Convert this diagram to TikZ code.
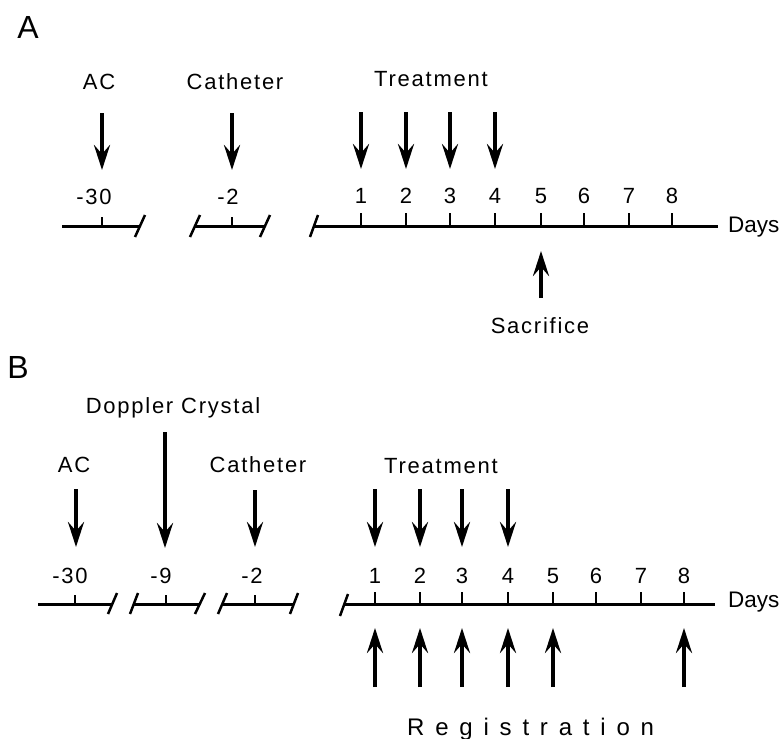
\documentclass[tikz,border=0pt]{standalone}
\usepackage{fontspec}
\setmainfont{Liberation Sans}
\newfontfamily\labelfont[LetterSpace=8]{Liberation Sans}
\newfontfamily\spreadfont[LetterSpace=45]{Liberation Sans}
\usetikzlibrary{arrows.meta}

\begin{document}
\begin{tikzpicture}[x=1pt,y=-1pt,
  lbl/.style={font=\labelfont\fontsize{22}{26}\selectfont, inner sep=0pt, anchor=base},
  num/.style={font=\labelfont\fontsize{22}{26}\selectfont, inner sep=0pt, anchor=base},
  unit/.style={font=\fontsize{22.5}{26}\selectfont, inner sep=0pt, anchor=base west},
  panel/.style={font=\fontsize{32}{36}\selectfont, inner sep=0pt, anchor=base},
  axis/.style={line width=3pt},
  cut/.style={line width=2.5pt},
  tick/.style={line width=2pt},
  event/.style={line width=4pt, -{Stealth[length=25pt,width=16pt,inset=9pt]}},
]
\useasboundingbox (0,0) rectangle (782,739);

% ---------------- Panel A ----------------
\node[panel] (labA) at (28,38) {A};

% AC segment
\coordinate (aacL) at (62,226);
\coordinate (aacR) at (140,226);
\coordinate (aacT) at (102,226);
\draw[axis] (aacL) -- (aacR);
\draw[cut] (135,237) -- (145,215);
\draw[tick] (102,217) -- (aacT);
\node[num] (aacN) at (94,204) {-30};
\node[lbl] (aacLab) at (99,89) {AC};
\coordinate (aacS) at (102,113);
\coordinate (aacE) at (102,170);
\draw[event] (aacS) -- (aacE);

% Catheter segment
\coordinate (acaL) at (195,226);
\coordinate (acaR) at (265,226);
\coordinate (acaT) at (232,226);
\draw[axis] (acaL) -- (acaR);
\draw[cut] (190,237) -- (200,215);
\draw[cut] (260,237) -- (270,215);
\draw[tick] (232,217) -- (acaT);
\node[num] (acaN) at (228,204) {-2};
\node[lbl] (acaLab) at (235,89) {Catheter};
\coordinate (acaS) at (232,113);
\coordinate (acaE) at (232,170);
\draw[event] (acaS) -- (acaE);

% Treatment days
\coordinate (amL) at (314,226);
\coordinate (amR) at (718,226);
\draw[axis] (amL) -- (amR);
\draw[cut] (310,237) -- (318,215);
\foreach \n/\x in {1/361,2/406,3/450,4/495,5/541,6/584,7/629,8/672} {
  \coordinate (at\n) at (\x,226);
  \draw[tick] (\x,213) -- (at\n);
  \node[num] (an\n) at (\x,203) {\n};
}
\node[lbl] (atrLab) at (431,86) {Treatment};
\foreach \n/\x in {1/361,2/406,3/450,4/495} {
  \coordinate (ats\n) at (\x,112);
  \coordinate (ate\n) at (\x,169);
  \draw[event] (ats\n) -- (ate\n);
}
\node[unit] (adays) at (728,232) {Days};
\coordinate (asacS) at (541,298);
\coordinate (asacE) at (541,251);
\draw[event] (asacS) -- (asacE);
\node[lbl] (asacLab) at (540,333) {Sacrifice};

% ---------------- Panel B ----------------
\node[panel] (labB) at (18,378) {B};

% AC segment
\coordinate (bacL) at (38,604);
\coordinate (bacR) at (113,604);
\coordinate (bacT) at (75,604);
\draw[axis] (bacL) -- (bacR);
\draw[cut] (108,614) -- (117,593);
\draw[tick] (75,595) -- (bacT);
\node[num] (bacN) at (70,583) {-30};
\node[lbl] (bacLab) at (74,472) {AC};
\coordinate (bacS) at (76,489);
\coordinate (bacE) at (76,547);
\draw[event] (bacS) -- (bacE);

% Doppler crystal segment
\coordinate (bdoL) at (134,604);
\coordinate (bdoR) at (200,604);
\coordinate (bdoT) at (166,604);
\draw[axis] (bdoL) -- (bdoR);
\draw[cut] (130,614) -- (138,593);
\draw[cut] (195,614) -- (205,593);
\draw[tick] (166,595) -- (bdoT);
\node[num] (bdoN) at (161,583) {-9};
\node[lbl] (bdoLab) at (173,413) {Doppler Crystal};
\coordinate (bdoS) at (165,432);
\coordinate (bdoE) at (165,548);
\draw[event] (bdoS) -- (bdoE);

% Catheter segment
\coordinate (bcaL) at (222,604);
\coordinate (bcaR) at (294,604);
\coordinate (bcaT) at (255,604);
\draw[axis] (bcaL) -- (bcaR);
\draw[cut] (218,614) -- (227,593);
\draw[cut] (290,614) -- (298,593);
\draw[tick] (255,595) -- (bcaT);
\node[num] (bcaN) at (252,583) {-2};
\node[lbl] (bcaLab) at (258,472) {Catheter};
\coordinate (bcaS) at (255,490);
\coordinate (bcaE) at (255,547);
\draw[event] (bcaS) -- (bcaE);

% Treatment and registration days
\coordinate (bmL) at (344,604);
\coordinate (bmR) at (715,604);
\draw[axis] (bmL) -- (bmR);
\draw[cut] (340,616) -- (348,594);
\foreach \n/\x in {1/375,2/420,3/462,4/508,5/553,6/596,7/641,8/684} {
  \coordinate (bt\n) at (\x,604);
  \draw[tick] (\x,592) -- (bt\n);
  \node[num] (bn\n) at (\x,583) {\n};
}
\node[lbl] (btrLab) at (441,473) {Treatment};
\foreach \n/\x in {1/375,2/420,3/462,4/508} {
  \coordinate (bts\n) at (\x,489);
  \coordinate (bte\n) at (\x,547);
  \draw[event] (bts\n) -- (bte\n);
}
\foreach \n/\x in {1/375,2/420,3/462,4/508,5/553,8/684} {
  \coordinate (brs\n) at (\x,687);
  \coordinate (bre\n) at (\x,628);
  \draw[event] (brs\n) -- (bre\n);
}
\node[unit] (bdays) at (728,607) {Days};
\node[font=\spreadfont\fontsize{24}{28}\selectfont, inner sep=0pt, anchor=base west] (bregLab) at (407,735) {Registration};
\end{tikzpicture}
\end{document}
